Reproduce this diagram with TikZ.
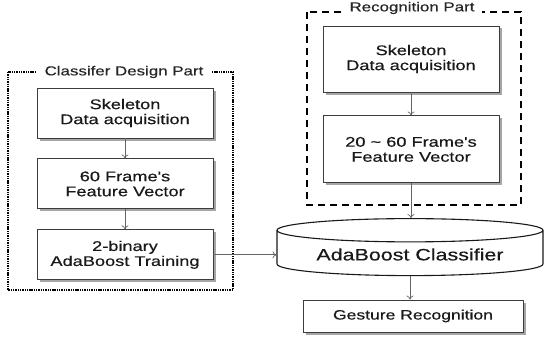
\documentclass[tikz,border=0pt]{standalone}
\usepackage{fontspec}
\newfontfamily\diagfont{Liberation Sans}[FakeStretch=1.3, FakeBold=0.4]
\usepackage{tikz}
\usetikzlibrary{positioning,shapes.geometric,shadows,arrows.meta}
\definecolor{boxline}{RGB}{60,60,60}
\definecolor{arrowgray}{RGB}{100,100,100}

\begin{document}
\begin{tikzpicture}[x=1pt, y=1pt, node distance=20pt,
    stagebox/.style={draw=boxline, line width=0.9pt, fill=white,
        drop shadow={shadow xshift=2.5pt, shadow yshift=-2.5pt, fill=gray, opacity=0.7},
        align=center, text=black!90,
        font=\diagfont\fontsize{14}{15}\selectfont},
    parttitle/.style={fill=white, inner xsep=8pt, inner ysep=1pt, text=black!85,
        font=\diagfont\fontsize{13}{14}\selectfont},
    flow/.style={-{To[length=4pt, width=7pt]}, draw=arrowgray, line width=0.7pt}]
    \useasboundingbox (0,0) rectangle (546,-337);

    % Classifier design part
    \node [stagebox,
        minimum width=176pt,
        minimum height=50pt
    ] (Design1) at (125,-113) {Skeleton\\Data acquisition};
    \node [stagebox,
        minimum width=176pt,
        minimum height=50pt,
        below=of Design1
    ] (Design2) {60 Frame's\\Feature Vector};
    \node [stagebox,
        minimum width=176pt,
        minimum height=50pt,
        below=of Design2
    ] (Design3) {2-binary\\AdaBoost Training};

    % Recognition part
    \node [stagebox,
        minimum width=176pt,
        minimum height=66pt
    ] (Recog1) at (411,-59) {Skeleton\\Data acquisition};
    \node [stagebox,
        minimum width=176pt,
        minimum height=67pt,
        below=23pt of Recog1
    ] (Recog2) {20 \textasciitilde\ 60 Frame's\\Feature Vector};

    % Classifier and output
    \node [cylinder,
        shape border rotate=90,
        aspect=0.12,
        draw=black!90,
        line width=1.1pt,
        fill=white,
        minimum width=266pt,
        minimum height=57pt,
        text=black!90,
        font=\diagfont\fontsize{16.5}{18}\selectfont
    ] (Classifier) at (410,-254.5) {AdaBoost Classifier};
    \node [stagebox,
        minimum width=220pt,
        minimum height=32pt,
        font=\diagfont\fontsize{13.5}{15}\selectfont
    ] (Gesture) at (413,-316) {Gesture Recognition};

    % Part frames
    \draw [line width=1.6pt, dash pattern=on 1.4pt off 0.9pt]
        (8,-72) rectangle (233,-290);
    \node [parttitle] (DesignTitle) at (124,-72) {Classifer Design Part};
    \draw [line width=2pt, dash pattern=on 7pt off 5pt]
        (307,-12) rectangle (521,-205);
    \node [parttitle] (RecogTitle) at (412,-8) {Recognition Part};

    % Arrows
    \draw [flow] (Design1) -- (Design2);
    \draw [flow] (Design2) -- (Design3);
    \draw [flow] (Design3.east) -- (Design3.east -| Classifier.west);
    \draw [flow] (Recog1) -- (Recog2);
    \draw [flow] (Recog2.south) -- (Recog2.south |- Classifier.north);
    \draw [flow] (Classifier.south) -- (Classifier.south |- Gesture.north);

\end{tikzpicture}
\end{document}
